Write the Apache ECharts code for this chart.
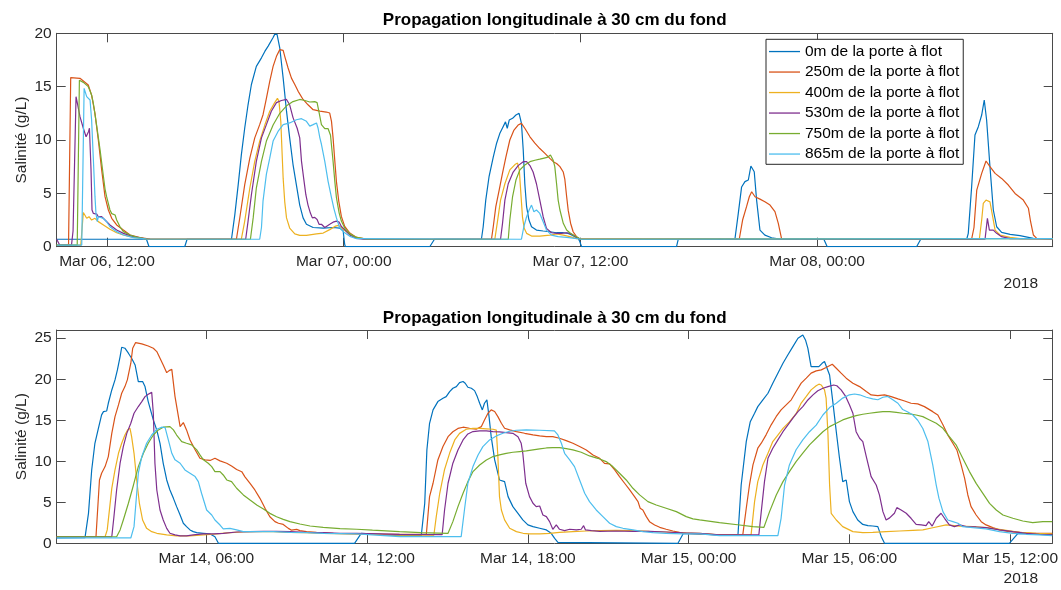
<!DOCTYPE html>
<html><head><meta charset="utf-8">
<script src="https://cdn.jsdelivr.net/npm/echarts@6/dist/echarts.min.js"></script>
<style>html,body{margin:0;padding:0;background:#fff}#c{width:1061px;height:590px}</style>
</head><body><div id="c"></div>
<script>
// ---------- names / labels ----------
const seriesNames = ['0m de la porte à flot','250m de la porte à flot','400m de la porte à flot','530m de la porte à flot','750m de la porte à flot','865m de la porte à flot'];
const chartTitle = 'Propagation longitudinale à 30 cm du fond';
const yName = 'Salinité (g/L)';
const yearLabel = '2018';
// x values are hours: top panel from Mar 06 00:00, bottom panel from Mar 14 00:00
const topTickHours = [12, 24, 36, 48];
const topTickLabels = ['Mar 06, 12:00', 'Mar 07, 00:00', 'Mar 07, 12:00', 'Mar 08, 00:00'];
const botTickHours = [6, 12, 18, 24, 30, 36];
const botTickLabels = ['Mar 14, 06:00', 'Mar 14, 12:00', 'Mar 14, 18:00', 'Mar 15, 00:00', 'Mar 15, 06:00', 'Mar 15, 12:00'];
const topYTicks = [0, 5, 10, 15, 20];
const botYTicks = [0, 5, 10, 15, 20, 25];

// ---------- top panel (Mar 06 - Mar 08) ----------
const top0m = [[9.45,0.7],[14.0,0.7],[14.13,0],[15.94,0],[16.06,0.7],[18.31,0.7],[18.48,3.0],[18.65,5.8],[18.81,8.6],[18.98,11.1],[19.15,13.3],[19.32,15.2],[19.57,16.9],[19.83,17.7],[20.0,18.3],[20.17,18.8],[20.42,19.6],[20.5,19.9],[20.62,19.9],[20.76,18.6],[20.93,15.8],[21.10,12.7],[21.26,10.2],[21.43,7.7],[21.6,5.8],[21.77,3.9],[21.94,2.7],[22.11,2.1],[22.45,1.8],[22.96,1.75],[23.46,1.8],[23.8,1.75],[23.97,1.5],[24.05,0.2],[24.09,0],[28.36,0],[28.6,0.7],[30.98,0.7],[31.07,1.87],[31.2,4.37],[31.37,6.6],[31.58,8.4],[31.75,9.7],[31.91,10.6],[32.08,11.25],[32.2,11.7],[32.29,11.1],[32.39,11.87],[32.56,12.03],[32.73,12.34],[32.89,12.5],[32.96,12.65],[33.01,11.56],[33.1,9.06],[33.18,5.9],[33.27,3.75],[33.39,2.5],[33.52,1.87],[33.77,1.56],[34.11,1.47],[34.45,1.4],[34.79,1.31],[35.13,1.31],[35.38,1.25],[35.55,1.09],[35.72,0.94],[35.89,0.78],[35.97,0.47],[36.06,0],[40.87,0],[40.96,0.7],[43.83,0.7],[44.0,3.1],[44.17,5.6],[44.34,6.1],[44.51,6.25],[44.64,7.56],[44.81,7.03],[44.93,4.37],[45.1,1.56],[45.35,1.09],[45.69,0.84],[46.11,0.72],[48.34,0.7],[48.51,0],[53.04,0],[53.25,0.7],[55.58,0.7],[55.66,1.25],[55.83,5.6],[56.0,10.47],[56.17,11.25],[56.34,12.34],[56.47,13.75],[56.59,11.87],[56.76,7.5],[56.93,3.44],[57.1,1.87],[57.35,1.34],[57.78,1.15],[58.28,1.03],[58.71,0.87],[58.96,0.78],[59.94,0.75]];
const top250m = [[9.45,0.15],[10.05,0.15],[10.16,15.85],[10.63,15.78],[11.05,15.15],[11.22,14.2],[11.39,12.5],[11.56,10.0],[11.73,7.2],[11.9,4.69],[12.07,3.44],[12.24,2.66],[12.49,2.04],[12.83,1.56],[13.17,1.1],[13.67,0.85],[14.18,0.72],[18.56,0.7],[18.73,2.69],[18.98,5.8],[19.24,8.3],[19.49,10.2],[19.74,11.44],[19.91,12.37],[20.08,13.9],[20.25,15.5],[20.42,16.9],[20.59,17.84],[20.76,18.47],[20.84,18.56],[20.93,18.4],[21.01,17.84],[21.18,16.75],[21.35,15.8],[21.52,15.2],[21.69,14.56],[21.94,13.8],[22.19,13.3],[22.45,12.84],[22.79,12.7],[23.12,12.62],[23.29,12.53],[23.38,11.75],[23.46,10.2],[23.55,8.0],[23.63,6.1],[23.75,4.25],[23.88,2.84],[24.05,1.9],[24.31,1.28],[24.65,0.87],[25.15,0.72],[31.49,0.7],[31.58,1.87],[31.71,3.75],[31.88,5.3],[32.05,6.9],[32.22,8.4],[32.42,10.0],[32.62,10.9],[32.84,11.4],[33.01,11.56],[33.18,11.1],[33.44,10.3],[33.69,9.7],[33.94,9.2],[34.2,8.75],[34.45,8.28],[34.62,7.97],[34.79,7.8],[34.96,7.5],[35.13,7.0],[35.21,6.3],[35.3,4.7],[35.38,3.4],[35.5,2.2],[35.63,1.4],[35.8,0.94],[36.0,0.7],[44.05,0.7],[44.22,2.5],[44.42,3.75],[44.56,4.68],[44.68,5.15],[44.85,4.68],[45.1,4.46],[45.35,4.22],[45.61,3.9],[45.86,3.28],[46.03,2.19],[46.2,0.72],[55.83,0.7],[55.95,1.8],[56.09,5.3],[56.34,6.87],[56.56,8.03],[56.76,7.5],[57.02,6.87],[57.35,6.4],[57.69,5.78],[58.03,4.99],[58.45,4.37],[58.71,3.6],[58.82,2.34],[58.96,1.1],[59.13,0.78],[59.94,0.75]];
const top400m = [[9.45,0.15],[10.67,0.15],[10.8,3.2],[10.97,2.66],[11.09,2.81],[11.22,2.5],[11.39,2.66],[11.56,2.35],[11.82,2.04],[12.15,1.63],[12.49,1.31],[12.83,1.1],[13.34,0.87],[14.0,0.72],[18.81,0.7],[18.98,2.38],[19.24,5.5],[19.49,8.0],[19.74,9.9],[20.0,11.4],[20.25,12.7],[20.5,13.5],[20.64,13.9],[20.72,13.6],[20.81,11.75],[20.88,8.6],[20.93,6.4],[21.01,4.2],[21.1,2.7],[21.26,1.75],[21.52,1.2],[21.77,1.06],[22.11,1.06],[22.62,1.2],[22.96,1.28],[23.29,1.6],[23.55,1.9],[23.72,2.0],[23.88,1.8],[24.14,1.4],[24.48,0.97],[24.98,0.72],[31.66,0.7],[31.78,2.19],[31.95,4.37],[32.17,5.9],[32.42,7.2],[32.68,7.7],[32.81,7.84],[32.9,7.2],[32.98,5.0],[33.06,2.8],[33.15,1.72],[33.27,1.25],[33.52,1.0],[33.94,1.0],[34.45,1.09],[34.79,1.19],[35.13,1.09],[35.46,0.94],[35.8,0.75],[56.22,0.7],[56.34,2.5],[56.42,4.05],[56.56,4.37],[56.76,4.2],[56.9,2.8],[57.02,1.56],[57.27,1.1],[57.78,0.87],[58.28,0.75],[59.94,0.72]];
const top530m = [[9.45,0.7],[9.6,0.15],[10.2,0.15],[10.28,1.5],[10.43,14.06],[10.5,13.44],[10.63,12.19],[10.8,11.1],[10.94,10.3],[11.06,10.78],[11.11,11.1],[11.19,7.2],[11.24,3.44],[11.31,3.12],[11.48,3.06],[11.56,2.81],[11.73,2.81],[11.9,2.5],[12.15,2.04],[12.49,1.56],[12.83,1.25],[13.34,0.94],[14.0,0.72],[19.03,0.7],[19.15,2.38],[19.32,4.87],[19.57,8.0],[19.83,10.2],[20.08,11.44],[20.33,12.7],[20.59,13.5],[20.84,13.7],[21.1,13.8],[21.26,13.3],[21.43,12.1],[21.64,11.1],[21.77,10.2],[21.86,8.0],[21.97,6.4],[22.08,4.87],[22.19,3.9],[22.31,3.15],[22.41,2.7],[22.53,2.75],[22.65,2.55],[22.75,2.1],[22.87,2.1],[23.04,1.8],[23.16,1.95],[23.29,2.1],[23.46,2.3],[23.63,2.4],[23.77,2.3],[23.88,1.9],[24.05,1.6],[24.31,1.1],[24.65,0.78],[25.0,0.7],[31.95,0.7],[32.05,2.19],[32.17,4.37],[32.34,5.9],[32.59,7.0],[32.84,7.6],[33.1,7.97],[33.27,7.97],[33.44,7.6],[33.6,7.0],[33.77,5.9],[33.94,4.37],[34.11,2.81],[34.28,1.72],[34.53,1.31],[34.79,1.25],[35.04,1.25],[35.3,1.31],[35.46,1.25],[35.63,1.09],[35.8,0.87],[35.97,0.7],[56.51,0.7],[56.63,2.66],[56.73,1.56],[56.93,1.56],[57.1,1.25],[57.35,0.94],[57.78,0.75],[59.94,0.72]];
const top750m = [[9.45,0.15],[10.49,0.15],[10.6,15.6],[10.8,15.4],[11.05,15.0],[11.14,14.6],[11.22,14.2],[11.31,13.4],[11.48,11.3],[11.65,9.06],[11.82,6.56],[11.9,5.4],[11.98,4.69],[12.15,3.44],[12.24,3.1],[12.41,2.97],[12.49,2.5],[12.66,1.87],[12.83,1.41],[13.17,1.1],[13.5,0.9],[14.0,0.72],[19.27,0.7],[19.41,2.7],[19.57,5.5],[19.83,8.0],[20.08,9.9],[20.42,11.4],[20.76,12.5],[21.1,13.2],[21.43,13.6],[21.77,13.8],[22.03,13.7],[22.28,13.56],[22.53,13.6],[22.65,13.5],[22.74,12.69],[22.87,11.44],[23.04,11.06],[23.21,11.06],[23.33,10.44],[23.46,8.0],[23.55,6.1],[23.63,4.6],[23.77,3.15],[23.88,2.4],[24.05,1.75],[24.31,1.2],[24.65,0.87],[25.15,0.72],[32.34,0.7],[32.42,2.5],[32.56,4.7],[32.73,6.25],[32.93,7.2],[33.18,7.66],[33.44,7.97],[33.69,8.1],[33.94,8.2],[34.11,8.28],[34.31,8.37],[34.48,8.6],[34.62,8.1],[34.7,7.5],[34.79,5.9],[34.87,4.37],[34.96,3.44],[35.13,2.19],[35.3,1.56],[35.46,1.31],[35.63,1.09],[35.8,0.94],[36.0,0.7],[59.94,0.75]];
const top865m = [[9.45,0.15],[10.72,0.15],[10.84,14.84],[10.97,14.06],[11.14,13.75],[11.22,11.87],[11.31,8.12],[11.39,4.69],[11.44,3.12],[11.51,2.34],[11.56,2.81],[11.65,2.9],[11.82,2.66],[11.98,2.34],[12.15,1.87],[12.49,1.41],[12.83,1.1],[13.34,0.85],[14.0,0.72],[19.74,0.7],[19.83,1.8],[19.91,4.3],[20.08,6.8],[20.25,8.3],[20.42,9.9],[20.67,10.8],[20.93,11.44],[21.26,11.6],[21.6,11.9],[21.86,12.0],[22.11,11.75],[22.28,11.3],[22.45,11.44],[22.62,11.6],[22.7,11.1],[22.79,10.2],[22.87,9.6],[23.04,8.0],[23.21,6.1],[23.38,4.6],[23.5,3.6],[23.63,2.7],[23.77,1.9],[23.88,1.6],[24.05,1.3],[24.31,0.97],[24.65,0.75],[33.01,0.7],[33.13,1.87],[33.27,2.81],[33.4,3.44],[33.52,3.9],[33.64,3.28],[33.77,3.44],[33.94,3.12],[34.11,2.34],[34.28,1.56],[34.53,1.09],[34.87,0.94],[35.3,0.87],[35.72,0.78],[36.06,0.7],[59.94,0.75]];

// ---------- bottom panel (Mar 14 - Mar 15) ----------
const bot0m = [[0.414,0.65],[1.47,0.7],[1.6,3.65],[1.72,8.94],[1.84,12.19],[1.97,14.02],[2.09,15.65],[2.16,16.05],[2.28,16.13],[2.34,17.07],[2.47,18.69],[2.59,19.92],[2.68,21.13],[2.78,22.76],[2.84,23.9],[2.96,23.78],[3.09,23.17],[3.21,22.56],[3.34,21.74],[3.46,19.71],[3.62,19.71],[3.71,19.1],[3.83,17.27],[4.02,15.04],[4.15,13.8],[4.27,12.19],[4.39,9.75],[4.52,7.72],[4.64,6.5],[4.77,5.48],[4.89,4.47],[5.02,3.45],[5.14,2.44],[5.26,2.03],[5.39,1.63],[5.51,1.42],[5.64,1.3],[5.89,1.22],[6.14,1.14],[6.32,0.81],[6.45,0],[11.53,0],[11.78,1.2],[13.21,0.93],[14.02,0.93],[14.15,4.88],[14.23,11.38],[14.33,14.63],[14.46,16.26],[14.64,17.27],[14.83,17.68],[14.95,17.88],[15.08,18.49],[15.2,18.9],[15.33,19.1],[15.45,19.59],[15.58,19.72],[15.66,19.51],[15.76,19.02],[15.89,18.9],[16.01,18.61],[16.11,17.88],[16.2,17.07],[16.3,16.26],[16.38,17.07],[16.47,17.48],[16.55,15.44],[16.63,13.0],[16.76,10.16],[16.94,7.72],[17.13,7.52],[17.26,5.69],[17.44,4.47],[17.63,3.66],[17.81,2.85],[18.0,2.24],[18.19,2.03],[18.44,1.83],[18.69,1.63],[18.87,1.22],[19.0,0.61],[19.12,0.12],[19.18,0],[23.6,0],[23.8,1.2],[25.15,1.02],[25.84,1.02],[25.96,7.11],[26.15,12.39],[26.3,14.82],[26.46,15.85],[26.58,16.66],[26.77,17.47],[26.96,18.29],[27.14,19.5],[27.33,20.72],[27.52,21.94],[27.7,22.96],[27.89,23.98],[28.08,24.99],[28.26,25.4],[28.36,24.79],[28.45,23.77],[28.57,21.54],[28.7,21.54],[28.86,21.54],[28.98,21.94],[29.07,22.15],[29.13,21.94],[29.26,20.52],[29.38,17.27],[29.51,13.6],[29.63,10.37],[29.75,7.52],[29.88,7.72],[30.0,5.08],[30.13,3.86],[30.31,2.84],[30.5,2.3],[30.69,2.15],[30.87,2.11],[31.06,2.03],[31.19,0.81],[31.31,0],[35.97,0],[36.29,1.2],[37.57,1.1]];
const bot250m = [[0.414,0.8],[1.88,0.8],[2.01,7.72],[2.09,8.54],[2.22,9.35],[2.34,10.57],[2.47,13.4],[2.59,15.44],[2.72,16.87],[2.84,18.29],[2.96,19.1],[3.05,19.92],[3.18,21.95],[3.25,23.78],[3.36,24.47],[3.59,24.3],[3.83,24.05],[4.02,23.78],[4.15,23.37],[4.27,22.56],[4.39,21.74],[4.52,20.8],[4.61,21.05],[4.71,21.2],[4.83,17.88],[5.02,14.23],[5.14,14.72],[5.26,13.82],[5.39,12.6],[5.58,11.4],[5.76,10.37],[5.95,10.17],[6.14,10.1],[6.32,10.37],[6.51,10.05],[6.76,9.76],[6.94,9.43],[7.13,9.0],[7.32,8.73],[7.44,8.1],[7.63,7.3],[7.81,6.5],[8.0,5.48],[8.19,4.26],[8.37,3.24],[8.56,2.64],[8.69,2.44],[8.87,2.3],[9.06,1.82],[9.18,1.6],[9.37,1.7],[9.49,1.55],[9.74,1.42],[10.11,1.34],[10.36,1.3],[10.74,1.22],[11.61,1.14],[13.21,1.1],[14.21,1.1],[14.33,5.69],[14.46,7.32],[14.64,10.16],[14.83,11.79],[15.02,13.0],[15.2,13.6],[15.39,14.0],[15.58,14.15],[15.82,14.02],[16.07,13.9],[16.26,14.22],[16.38,15.04],[16.51,15.85],[16.63,16.26],[16.76,16.06],[16.88,15.44],[17.01,14.63],[17.13,14.02],[17.32,13.82],[17.57,13.62],[17.88,13.41],[18.19,13.21],[18.44,13.09],[18.69,13.0],[18.93,13.0],[19.18,12.8],[19.43,12.52],[19.68,12.19],[19.93,11.79],[20.18,11.38],[20.43,10.77],[20.68,10.36],[20.86,9.75],[21.05,9.67],[21.24,8.94],[21.42,8.13],[21.61,7.32],[21.8,6.5],[21.98,5.69],[22.11,5.08],[22.19,4.27],[22.29,4.06],[22.42,3.25],[22.54,2.64],[22.73,2.24],[22.92,1.95],[23.16,1.71],[23.41,1.5],[23.66,1.34],[23.91,1.22],[24.41,1.14],[25.15,1.02],[26.02,1.02],[26.15,4.27],[26.27,7.11],[26.4,9.55],[26.58,11.59],[26.71,12.2],[26.89,13.22],[27.08,14.44],[27.27,15.46],[27.45,16.27],[27.64,16.88],[27.83,17.49],[28.01,18.5],[28.2,19.52],[28.39,20.13],[28.57,20.74],[28.76,21.02],[28.95,21.14],[29.13,21.43],[29.36,21.83],[29.51,21.34],[29.69,20.74],[29.88,20.13],[30.13,19.52],[30.38,19.1],[30.63,18.5],[30.81,18.09],[31.06,18.01],[31.31,18.09],[31.56,17.88],[31.81,17.6],[32.06,17.35],[32.3,17.07],[32.55,16.99],[32.8,16.66],[33.11,16.05],[33.3,15.64],[33.49,14.44],[33.67,13.22],[33.86,12.2],[34.01,11.38],[34.17,9.55],[34.3,7.92],[34.42,5.89],[34.54,4.47],[34.73,3.45],[34.92,2.64],[35.1,2.24],[35.35,1.91],[35.6,1.63],[35.97,1.42],[36.35,1.34],[36.84,1.22],[37.57,1.22]];
const bot400m = [[0.414,0.8],[2.22,0.8],[2.3,1.63],[2.47,6.7],[2.59,8.94],[2.72,10.97],[2.84,12.19],[2.96,13.2],[3.06,13.82],[3.15,14.02],[3.21,13.0],[3.3,10.97],[3.4,7.72],[3.5,4.88],[3.62,2.84],[3.77,1.82],[3.96,1.42],[4.15,1.22],[4.52,1.02],[4.89,0.9],[5.39,0.9],[5.89,1.02],[6.38,1.14],[6.88,1.3],[7.38,1.38],[7.88,1.42],[8.5,1.42],[9.12,1.34],[9.74,1.3],[10.36,1.22],[11.61,1.14],[13.21,1.0],[14.49,0.98],[14.58,3.25],[14.71,6.1],[14.89,9.0],[15.08,11.0],[15.27,12.6],[15.45,13.4],[15.7,13.9],[15.95,14.0],[16.2,14.0],[16.45,13.95],[16.7,13.9],[16.82,13.8],[16.88,10.57],[16.94,5.69],[17.01,4.06],[17.13,2.85],[17.32,1.83],[17.57,1.42],[17.82,1.22],[18.06,1.14],[18.44,1.14],[18.81,1.22],[19.18,1.34],[19.68,1.42],[20.18,1.5],[20.68,1.55],[21.3,1.58],[21.92,1.55],[22.54,1.46],[23.16,1.38],[23.78,1.26],[24.41,1.22],[25.15,1.02],[26.33,1.02],[26.46,5.08],[26.58,7.52],[26.77,9.55],[26.96,10.98],[27.14,12.4],[27.33,13.2],[27.52,14.0],[27.76,14.8],[28.01,15.8],[28.2,17.1],[28.39,17.9],[28.57,18.7],[28.76,19.2],[28.86,19.4],[28.95,19.3],[29.07,18.7],[29.13,17.7],[29.2,13.2],[29.26,7.1],[29.32,3.66],[29.51,2.84],[29.75,2.03],[30.13,1.42],[30.5,1.3],[30.87,1.34],[31.37,1.42],[31.87,1.5],[32.37,1.58],[32.74,1.63],[33.11,1.9],[33.61,2.24],[34.11,2.1],[34.61,2.03],[35.1,1.91],[35.73,1.63],[36.35,1.34],[36.97,1.22],[37.57,1.15]];
const bot530m = [[0.414,0.8],[2.47,0.8],[2.55,3.24],[2.65,6.5],[2.78,9.76],[2.9,11.79],[3.03,13.4],[3.18,14.63],[3.3,15.85],[3.46,16.67],[3.59,17.27],[3.71,17.88],[3.83,18.17],[3.96,18.4],[4.02,15.85],[4.08,9.76],[4.15,6.5],[4.27,4.06],[4.39,2.84],[4.52,1.82],[4.64,1.22],[4.83,1.02],[5.02,0.9],[5.26,0.9],[5.51,1.02],[5.89,1.14],[6.26,1.14],[6.63,1.22],[7.13,1.38],[7.63,1.42],[8.13,1.46],[8.62,1.46],[9.12,1.42],[9.74,1.34],[10.36,1.3],[10.99,1.22],[11.61,1.22],[13.21,1.1],[14.8,1.05],[14.89,4.06],[15.02,7.32],[15.2,9.76],[15.39,11.38],[15.58,12.6],[15.76,13.33],[15.95,13.62],[16.2,13.7],[16.45,13.7],[16.7,13.62],[16.94,13.58],[17.19,13.5],[17.44,13.41],[17.63,13.0],[17.75,12.19],[17.81,10.97],[17.92,7.32],[18.06,5.69],[18.19,4.88],[18.31,4.47],[18.44,4.55],[18.56,3.45],[18.69,3.25],[18.81,2.64],[18.93,1.71],[19.06,2.24],[19.18,1.71],[19.37,1.55],[19.56,1.71],[19.81,1.63],[19.99,1.71],[20.08,2.15],[20.15,1.63],[20.37,1.55],[20.68,1.46],[21.3,1.5],[21.92,1.46],[22.54,1.46],[23.16,1.38],[23.78,1.26],[24.41,1.22],[25.15,1.02],[26.62,1.02],[26.71,3.86],[26.83,7.52],[26.96,10.37],[27.14,11.59],[27.33,12.6],[27.52,13.6],[27.7,14.4],[27.89,15.25],[28.08,16.05],[28.26,16.66],[28.45,17.47],[28.64,18.09],[28.82,18.6],[29.01,18.9],[29.2,19.1],[29.41,19.3],[29.53,19.2],[29.69,18.7],[29.86,17.9],[30.0,16.9],[30.13,15.85],[30.25,13.6],[30.38,12.8],[30.5,12.4],[30.63,10.57],[30.81,8.13],[31.0,7.1],[31.12,5.9],[31.25,3.86],[31.37,2.84],[31.5,3.1],[31.68,3.66],[31.77,4.35],[31.93,4.06],[32.12,3.66],[32.3,3.05],[32.49,2.3],[32.68,2.24],[32.86,2.15],[32.96,2.64],[33.09,2.1],[33.24,3.05],[33.42,3.66],[33.55,3.05],[33.73,2.24],[33.92,2.03],[34.11,2.24],[34.36,2.03],[34.73,1.99],[35.1,1.91],[35.6,1.63],[36.1,1.42],[36.6,1.22],[37.09,1.1],[37.57,1.02]];
const bot750m = [[0.414,0.8],[2.65,0.8],[2.78,1.63],[2.9,2.84],[3.09,4.88],[3.28,7.11],[3.46,9.35],[3.65,10.97],[3.83,12.19],[4.02,13.2],[4.21,13.82],[4.39,14.15],[4.64,14.23],[4.77,13.82],[4.89,13.2],[5.08,12.4],[5.26,12.19],[5.45,11.99],[5.64,11.38],[5.76,10.77],[5.89,10.17],[6.07,9.76],[6.2,9.35],[6.32,8.74],[6.51,8.74],[6.63,8.33],[6.76,7.72],[6.94,7.52],[7.13,6.71],[7.38,5.9],[7.63,5.28],[7.88,4.67],[8.13,4.18],[8.37,3.65],[8.62,3.24],[8.87,2.92],[9.12,2.64],[9.49,2.35],[9.87,2.11],[10.36,1.95],[10.99,1.79],[11.61,1.71],[12.2,1.6],[13.21,1.42],[14.0,1.3],[15.02,1.22],[15.2,2.64],[15.39,4.47],[15.58,6.1],[15.76,7.52],[15.95,8.74],[16.2,9.55],[16.45,10.16],[16.7,10.57],[16.94,10.77],[17.19,10.97],[17.44,11.1],[17.69,11.18],[17.94,11.26],[18.19,11.38],[18.44,11.5],[18.69,11.62],[18.93,11.66],[19.18,11.66],[19.43,11.54],[19.68,11.38],[19.99,11.1],[20.3,10.65],[20.61,10.36],[20.92,9.96],[21.17,9.35],[21.42,8.54],[21.67,7.72],[21.92,6.71],[22.17,5.9],[22.48,5.08],[22.79,4.67],[23.16,4.27],[23.54,3.86],[23.91,3.25],[24.16,2.97],[24.41,2.85],[25.15,2.52],[25.9,2.23],[26.4,2.03],[26.81,1.95],[27.02,3.86],[27.27,5.89],[27.52,7.52],[27.76,8.74],[28.01,9.96],[28.26,10.98],[28.51,12.0],[28.76,12.8],[29.01,13.6],[29.26,14.22],[29.51,14.63],[29.75,15.04],[30.0,15.32],[30.25,15.57],[30.5,15.73],[30.75,15.85],[31.0,15.97],[31.25,16.05],[31.5,16.05],[31.75,15.97],[31.99,15.85],[32.24,15.77],[32.49,15.64],[32.74,15.44],[32.99,15.04],[33.24,14.63],[33.49,14.02],[33.73,13.0],[33.98,12.0],[34.23,10.37],[34.48,8.74],[34.73,7.31],[34.98,6.09],[35.23,4.87],[35.48,4.06],[35.73,3.45],[36.1,3.05],[36.47,2.72],[36.84,2.52],[37.22,2.64],[37.57,2.64]];
const bot865m = [[0.414,0.65],[3.18,0.65],[3.3,2.03],[3.37,4.88],[3.46,8.54],[3.59,10.57],[3.77,12.19],[3.96,13.2],[4.15,13.9],[4.33,14.15],[4.46,14.1],[4.58,12.6],[4.71,10.97],[4.83,10.17],[5.02,9.76],[5.2,8.94],[5.39,8.54],[5.58,8.13],[5.7,7.52],[5.82,6.1],[6.01,4.06],[6.2,3.45],[6.32,2.84],[6.51,2.23],[6.63,1.75],[6.88,1.82],[7.13,1.63],[7.38,1.42],[7.88,1.42],[8.5,1.42],[9.12,1.34],[9.74,1.3],[10.36,1.22],[11.61,1.14],[13.21,0.81],[15.51,0.81],[15.64,4.27],[15.76,7.32],[15.95,9.35],[16.14,10.77],[16.32,11.79],[16.57,12.6],[16.82,13.09],[17.07,13.41],[17.32,13.66],[17.57,13.78],[17.94,13.82],[18.44,13.78],[18.99,13.7],[19.12,13.21],[19.25,12.19],[19.37,10.97],[19.56,10.16],[19.74,9.35],[19.93,7.72],[20.12,6.1],[20.3,5.08],[20.55,4.06],[20.8,3.25],[21.05,2.44],[21.3,2.03],[21.55,1.83],[21.92,1.63],[22.29,1.42],[22.67,1.3],[23.16,1.22],[23.78,1.14],[24.41,1.14],[25.15,0.94],[27.33,0.94],[27.45,3.05],[27.58,7.1],[27.76,9.55],[28.01,11.4],[28.26,12.6],[28.51,13.6],[28.76,14.4],[29.01,15.64],[29.26,16.54],[29.51,17.07],[29.75,17.7],[30.0,18.1],[30.19,18.2],[30.38,18.1],[30.63,17.8],[30.87,17.6],[31.06,17.5],[31.25,17.8],[31.43,17.9],[31.62,17.5],[31.81,17.07],[31.99,16.3],[32.18,16.0],[32.37,15.64],[32.55,15.0],[32.74,14.0],[32.93,12.4],[33.11,9.55],[33.24,7.1],[33.34,5.5],[33.49,3.86],[33.67,2.84],[33.86,2.64],[34.05,2.44],[34.23,2.03],[34.61,1.9],[35.1,1.75],[35.6,1.42],[36.1,1.22],[36.6,1.1],[37.09,1.02],[37.57,0.94]];

const topData = [top0m, top250m, top400m, top530m, top750m, top865m];
const botData = [bot0m, bot250m, bot400m, bot530m, bot750m, bot865m];
const topRange = [9.45, 59.94];
const botRange = [0.414, 37.57];
const topYMax = 20, botYMax = 26;

// ---------- styling ----------
const colors = ['#0072BD','#D95319','#EDB120','#7E2F8E','#77AC30','#4DBEEE'];
const FONT = '"Liberation Sans", Arial, Helvetica, sans-serif';
const AX = '#262626';
const BOX = '#4a4a4a';
const FS = 15.5;

function labelFor(ticks, labels) {
  return v => { const i = ticks.findIndex(t => Math.abs(t - v) < 1e-6); return i >= 0 ? labels[i] : ''; };
}
function xPair(grid, range, ticks, labels) {
  const line = {show:true, onZero:false, lineStyle:{color:BOX, width:1}};
  return [
    {type:'value', gridIndex:grid, min:range[0], max:range[1], position:'bottom',
     axisLine:line,
     axisTick:{show:true, inside:true, length:9, customValues:ticks, lineStyle:{color:BOX, width:1}},
     axisLabel:{show:true, customValues:ticks, formatter:labelFor(ticks, labels), color:AX, fontFamily:FONT, fontSize:FS, margin:7},
     splitLine:{show:false}},
    {type:'value', gridIndex:grid, min:range[0], max:range[1], position:'top',
     axisLine:line,
     axisTick:{show:true, inside:true, length:9, customValues:ticks, lineStyle:{color:BOX, width:1}},
     axisLabel:{show:false}, splitLine:{show:false}}
  ];
}
function yPair(grid, max, ticks) {
  const line = {show:true, onZero:false, lineStyle:{color:BOX, width:1}};
  return [
    {type:'value', gridIndex:grid, min:0, max:max, position:'left',
     name:yName, nameLocation:'middle', nameGap:27, nameRotate:90, nameMoveOverlap:false,
     nameTextStyle:{color:AX, fontFamily:FONT, fontSize:FS},
     axisLine:line,
     axisTick:{show:true, inside:true, length:9, customValues:ticks, lineStyle:{color:BOX, width:1}},
     axisLabel:{show:true, customValues:ticks, color:AX, fontFamily:FONT, fontSize:FS, margin:5},
     splitLine:{show:false}},
    {type:'value', gridIndex:grid, min:0, max:max, position:'right',
     axisLine:line,
     axisTick:{show:true, inside:true, length:9, customValues:ticks, lineStyle:{color:BOX, width:1}},
     axisLabel:{show:false}, splitLine:{show:false}}
  ];
}

const series = [];
topData.forEach((d, i) => series.push({name:seriesNames[i], type:'line', xAxisIndex:0, yAxisIndex:0, data:d,
  symbol:'none', showSymbol:false, lineStyle:{width:1.2, color:colors[i]}, itemStyle:{color:colors[i]}, emphasis:{disabled:true}, animation:false}));
botData.forEach((d, i) => series.push({name:seriesNames[i], type:'line', xAxisIndex:2, yAxisIndex:2, data:d,
  symbol:'none', showSymbol:false, lineStyle:{width:1.2, color:colors[i]}, itemStyle:{color:colors[i]}, emphasis:{disabled:true}, animation:false}));

const chart = echarts.init(document.getElementById('c'), null, {renderer:'canvas'});
chart.setOption({
  animation:false,
  backgroundColor:'#fff',
  color:colors,
  grid:[
    {left:56.7, top:33.3, width:996, height:213.4, containLabel:false},
    {left:56.7, top:330, width:996, height:213.3, containLabel:false}
  ],
  xAxis:[...xPair(0, topRange, topTickHours, topTickLabels), ...xPair(1, botRange, botTickHours, botTickLabels)],
  yAxis:[...yPair(0, topYMax, topYTicks), ...yPair(1, botYMax, botYTicks)],
  legend:{data:seriesNames, orient:'vertical', left:766, top:39.3, padding:[2,4,0,3], itemGap:0, itemWidth:31, itemHeight:1.3,
    icon:'rect',
    backgroundColor:'#fff', borderColor:AX, borderWidth:1, borderRadius:0, selectedMode:false,
    textStyle:{fontFamily:FONT, fontSize:FS, color:'#000', lineHeight:20.5}},
  graphic:[
    {type:'text', x:554.7, y:20, style:{text:chartTitle, font:'bold 17px ' + FONT, fill:'#000', align:'center', verticalAlign:'middle'}},
    {type:'text', x:554.7, y:318, style:{text:chartTitle, font:'bold 17px ' + FONT, fill:'#000', align:'center', verticalAlign:'middle'}},
    {type:'text', x:1038, y:284, style:{text:yearLabel, font:FS + 'px ' + FONT, fill:AX, align:'right', verticalAlign:'middle'}},
    {type:'text', x:1038, y:578.5, style:{text:yearLabel, font:FS + 'px ' + FONT, fill:AX, align:'right', verticalAlign:'middle'}}
  ],
  series:series
});
</script>
</body></html>
